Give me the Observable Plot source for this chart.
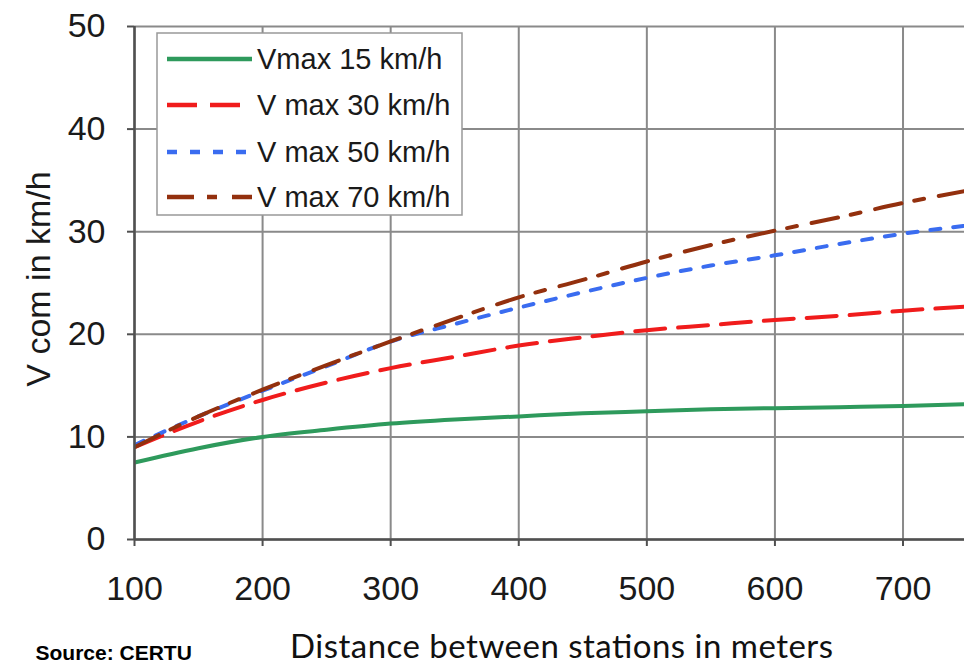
<!DOCTYPE html>
<html><head><meta charset="utf-8">
<script src="https://cdn.jsdelivr.net/npm/d3@7"></script>
<script src="https://cdn.jsdelivr.net/npm/@observablehq/plot@0.6"></script>
<style>
html,body{margin:0;padding:0;background:#fff;}
#wrap{position:relative;width:964px;height:663px;overflow:hidden;background:#fff;}
#legend{position:absolute;left:0;top:0;}
</style></head><body><div id="wrap"></div>
<script>
// Data
const distances = [100,150,200,250,300,350,400,450,500,550,600,650,700,750];
const vmax15 = [7.5,8.9,10.0,10.7,11.3,11.7,12.0,12.3,12.5,12.7,12.8,12.9,13.0,13.2];
const vmax30 = [9.0,11.5,13.6,15.3,16.7,17.8,18.9,19.7,20.4,20.9,21.4,21.8,22.3,22.7];
const vmax50 = [9.2,12.0,14.5,16.9,19.3,21.0,22.6,24.1,25.5,26.7,27.7,28.8,29.8,30.6];
const vmax70 = [9.0,12.0,14.6,17.0,19.3,21.5,23.6,25.3,27.1,28.7,30.1,31.4,32.8,34.0];
const seriesNames = ["Vmax 15 km/h","V max 30 km/h","V max 50 km/h","V max 70 km/h"];
const seriesValues = [vmax15, vmax30, vmax50, vmax70];
const seriesColors = ["#2e9a5c","#f01c1c","#3a6cf0","#93300e"];
const seriesDash = [null,"30,13","10,13","27,13,10,15"];
const xTicks = [100,200,300,400,500,600,700];
const yTicks = [0,10,20,30,40,50];
const xTitle = "Distance between stations in meters";
const yTitle = "V com in km/h";
const sourceText = "Source: CERTU";

const rows = seriesNames.flatMap((s, k) => distances.map((d, i) => ({series: s, d, v: seriesValues[k][i]})));

const gridColor = "#8a8a8a";
const axisColor = "#505050";

const lineMarks = seriesNames.map((s, k) => Plot.line(rows.filter(r => r.series === s), {
  x: "d", y: "v", stroke: seriesColors[k], strokeWidth: 4,
  strokeDasharray: seriesDash[k] || undefined, curve: "monotone-x", clip: true
}));

const chart = Plot.plot({
  width: 964, height: 663,
  marginLeft: 134, marginRight: 0, marginTop: 26, marginBottom: 124,
  style: {fontFamily: "'Liberation Sans', Arial, sans-serif", background: "#fff", color: "#1a1a1a"},
  x: {domain: [100, 748]},
  y: {domain: [0, 50]},
  marks: [
    Plot.gridX(xTicks, {stroke: gridColor, strokeOpacity: 1, strokeWidth: 2}),
    Plot.gridY(yTicks, {stroke: gridColor, strokeOpacity: 1, strokeWidth: 2}),
    ...lineMarks,
    Plot.ruleX([100], {stroke: axisColor, strokeWidth: 2.5}),
    Plot.ruleY([0], {stroke: axisColor, strokeWidth: 2.5}),
    Plot.axisX(xTicks, {tickSize: 7, tickPadding: 29, fontSize: 34, label: null, stroke: axisColor, strokeWidth: 2, fill: "#1a1a1a"}),
    Plot.axisY(yTicks, {tickSize: 7, tickPadding: 22, fontSize: 34, label: null, stroke: axisColor, strokeWidth: 2, fill: "#1a1a1a"}),
    Plot.text([yTitle], {text: d => d, frameAnchor: "left", textAnchor: "middle", rotate: -90, dx: -95, dy: -4, fontSize: 34, fill: "#1a1a1a"}),
    Plot.text([xTitle], {text: d => d, frameAnchor: "bottom", textAnchor: "middle", lineAnchor: "bottom", dx: 12, dy: 118, fontSize: 33, fontFamily: "Lato, 'Open Sans', sans-serif", fill: "#111"}),
    Plot.text([sourceText], {text: d => d, frameAnchor: "bottom-left", textAnchor: "start", lineAnchor: "bottom", dx: -99, dy: 120, fontSize: 21, fontWeight: "bold", fill: "#000"})
  ]
});
document.getElementById("wrap").appendChild(chart);

// stretch the x title to the reference width
d3.select(chart).selectAll("text").filter(function() { return this.textContent === xTitle; })
  .attr("textLength", 543).attr("lengthAdjust", "spacing");

// Legend overlay
const lg = d3.select("#wrap").append("svg").attr("id", "legend").attr("width", 964).attr("height", 663);
lg.append("rect").attr("x", 157).attr("y", 33).attr("width", 305).attr("height", 182)
  .attr("fill", "#fff").attr("stroke", "#999").attr("stroke-width", 1.5);
const rowY = [59, 105, 152, 197];
seriesNames.forEach((s, k) => {
  lg.append("line").attr("x1", 167).attr("x2", 252).attr("y1", rowY[k]).attr("y2", rowY[k])
    .attr("stroke", seriesColors[k]).attr("stroke-width", 4.5)
    .attr("stroke-dasharray", seriesDash[k] || null);
  lg.append("text").attr("x", 257).attr("y", rowY[k]).attr("dy", "0.36em")
    .attr("font-family", "'Liberation Sans', Arial, sans-serif").attr("font-size", 29)
    .attr("fill", "#1a1a1a").text(s);
});
</script>
</body></html>
